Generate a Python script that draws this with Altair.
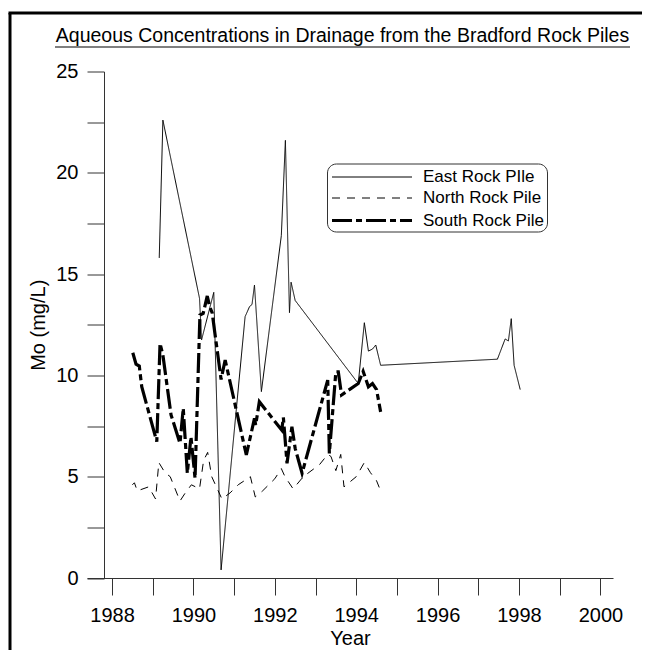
import altair as alt
import pandas as pd

# ---------------- data ----------------
series_names = ["East Rock PIle", "North Rock Pile", "South Rock Pile"]

east_year = [1989.16, 1989.25, 1990.15, 1990.20, 1990.50, 1990.68, 1991.27, 1991.38,
             1991.44, 1991.50, 1991.67, 1992.16, 1992.26, 1992.36, 1992.40, 1992.50,
             1994.05, 1994.20, 1994.30, 1994.40, 1994.48, 1994.60, 1997.47, 1997.66,
             1997.74, 1997.81, 1997.88, 1998.03]
east_mo = [15.8, 22.6, 13.8, 11.75, 14.1, 0.4, 12.9, 13.4,
           13.5, 14.46, 9.2, 16.9, 21.6, 13.1, 14.6, 13.7,
           9.6, 12.6, 11.2, 11.3, 11.5, 10.5, 10.8, 11.8,
           11.7, 12.8, 10.5, 9.3]

north_year = [1988.50, 1988.55, 1988.62, 1988.90, 1989.07, 1989.15, 1989.30, 1989.43,
              1989.67, 1989.80, 1989.95, 1990.15, 1990.25, 1990.35, 1990.45, 1990.70,
              1990.90, 1991.10, 1991.40, 1991.52, 1991.70, 1992.00, 1992.16, 1992.25,
              1992.45, 1992.70, 1993.10, 1993.30, 1993.38, 1993.50, 1993.62, 1993.70,
              1994.00, 1994.20, 1994.35, 1994.50, 1994.60]
north_mo = [4.6, 4.7, 4.3, 4.5, 3.9, 5.7, 5.2, 5.0,
            3.8, 4.2, 4.6, 4.4, 5.8, 6.2, 5.0, 3.9,
            4.2, 4.6, 5.0, 4.0, 4.3, 4.9, 5.4, 5.0,
            4.4, 5.0, 5.6, 6.1, 6.0, 5.3, 6.1, 4.5,
            5.0, 5.7, 5.2, 4.8, 4.3]

south_year = [1988.51, 1988.59, 1988.67, 1988.73, 1989.10, 1989.18, 1989.25, 1989.45,
              1989.67, 1989.75, 1989.85, 1989.94, 1990.04, 1990.16, 1990.24, 1990.34,
              1990.40, 1990.46, 1990.68, 1990.78, 1991.30, 1991.50, 1991.53, 1991.62,
              1992.17, 1992.21, 1992.30, 1992.42, 1992.50, 1992.67, 1993.30, 1993.34,
              1993.50, 1993.56, 1993.64, 1994.05, 1994.17, 1994.30, 1994.40, 1994.50,
              1994.60]
south_mo = [11.12, 10.55, 10.46, 9.44, 6.73, 11.58, 11.0, 8.05,
            6.65, 8.38, 5.17, 6.97, 4.92, 12.98, 13.06, 13.92,
            13.39, 13.1, 9.8, 10.76, 6.07, 7.88, 7.55, 8.7,
            7.3, 7.93, 5.66, 7.47, 6.4, 5.17, 9.77, 6.15,
            10.18, 10.18, 9.03, 9.6, 10.2, 9.44, 9.6, 9.3,
            8.2]

x_ticks = list(range(1988, 2001))
y_ticks = [0, 2.5, 5, 7.5, 10, 12.5, 15, 17.5, 20, 22.5, 25]

title_text = "Aqueous Concentrations in Drainage from the Bradford Rock Piles"

rows = []
for name, ys, vs in zip(series_names,
                        [east_year, north_year, south_year],
                        [east_mo, north_mo, south_mo]):
    for yr, v in zip(ys, vs):
        rows.append({"Year": yr, "Mo": v, "Pile": name})
df = pd.DataFrame(rows)

FONT = "Liberation Sans"
AX = "#333333"

legend_kw = dict(
    title=None, orient="none", legendX=240, legendY=92,
    symbolType="M-1,0H7", symbolSize=400, symbolStrokeColor="black",
    labelFont=FONT, labelFontSize=17, labelColor="black", labelOffset=69,
    rowPadding=2, padding=3, strokeColor=AX, fillColor="white",
    cornerRadius=9,
)

lines = alt.Chart(df).mark_line(color="black", strokeCap="butt").encode(
    x=alt.X("Year:Q",
            scale=alt.Scale(domain=[1987.385, 2000.31], nice=False, zero=False),
            axis=alt.Axis(values=x_ticks, format="d",
                          labelExpr="datum.value % 2 == 0 ? datum.label : ''",
                          title="Year", tickSize=17, labelPadding=10,
                          titlePadding=3, labelFlush=False, labelOverlap=False)),
    y=alt.Y("Mo:Q",
            scale=alt.Scale(domain=[0, 25], nice=False),
            axis=alt.Axis(values=y_ticks,
                          labelExpr="datum.value % 5 == 0 ? datum.label : ''",
                          title="Mo (mg/L)", tickSize=17, labelPadding=9,
                          offset=-17, titlePadding=7, labelOverlap=False)),
    strokeDash=alt.StrokeDash("Pile:N",
                              scale=alt.Scale(domain=series_names,
                                              range=[[1, 0], [8, 7], [20, 4, 6, 4]]),
                              legend=alt.Legend(**legend_kw)),
    strokeWidth=alt.StrokeWidth("Pile:N",
                                scale=alt.Scale(type="ordinal", domain=series_names,
                                                range=[1, 1, 3.2]),
                                legend=alt.Legend(**legend_kw)),
)

one = pd.DataFrame({"t": [title_text]})
title_mark = alt.Chart(one).mark_text(
    font=FONT, fontSize=19.5, color="black", align="center", baseline="middle"
).encode(text="t:N", x=alt.value(255.5), y=alt.value(-35.5))
underline = alt.Chart(one).mark_rule(color="black", strokeWidth=1.2).encode(
    x=alt.value(-32), x2=alt.value(543), y=alt.value(-24.5))
frame_left = alt.Chart(one).mark_rule(color="black", strokeWidth=3).encode(
    x=alt.value(-77), y=alt.value(-58.5), y2=alt.value(580))
frame_top = alt.Chart(one).mark_rule(color="black", strokeWidth=3).encode(
    x=alt.value(-78.5), x2=alt.value(555), y=alt.value(-58.5))

chart = alt.layer(lines, title_mark, underline, frame_left, frame_top).properties(
    width=526, height=506.5,
    autosize="none",
    padding={"left": 79, "top": 63.5, "right": 29, "bottom": 72},
).configure_axis(
    labelFont=FONT, titleFont=FONT, labelFontSize=20, titleFontSize=20,
    titleFontWeight="normal", labelColor="black", titleColor="black",
    domainColor=AX, tickColor=AX, grid=False,
).configure_view(strokeWidth=0)

chart.save("out.html", embed_options={"renderer": "svg", "actions": False})
